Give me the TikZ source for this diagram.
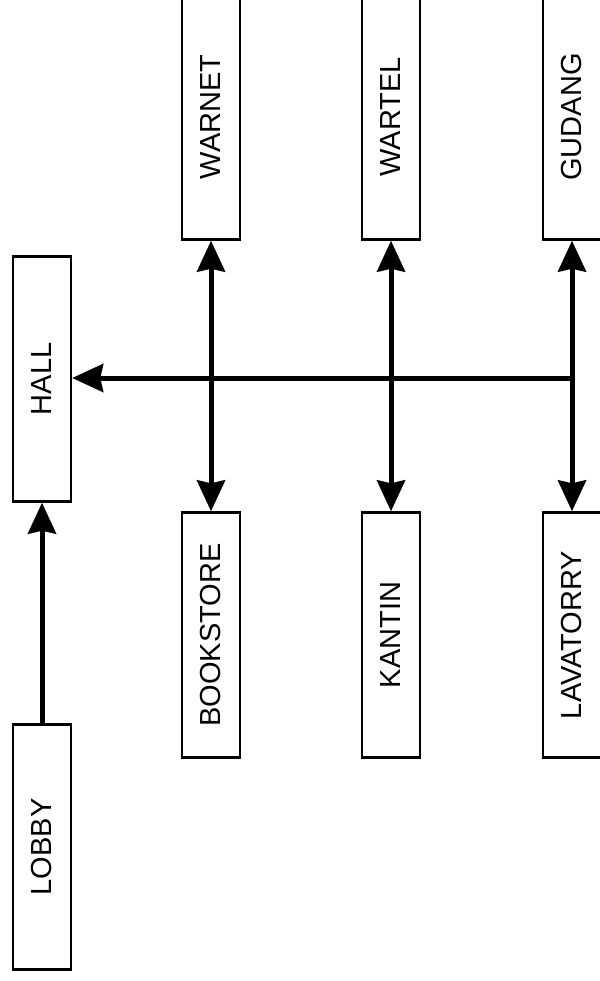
\documentclass[tikz,border=0pt]{standalone}
\usepackage{fontspec}
\setmainfont{Liberation Sans}
\usetikzlibrary{arrows.meta}
\tikzset{
  room/.style={draw, line width=2.4pt, minimum width=58pt, minimum height=245pt,
    inner sep=0pt, font=\fontsize{29}{29}\selectfont},
  flow/.style={line width=5pt},
}

\begin{document}
\begin{tikzpicture}[x=1pt, y=1pt, >={Stealth[length=31pt, width=28pt, inset=3pt]}]
\useasboundingbox (0,0) rectangle (599,-981);
% ---------- entrance ----------
\node[room] (lobby) at (42,-847) {\rotatebox{90}{LOBBY}};
\node[room] (hall) at (42,-379) {\rotatebox{90}{HALL}};
\draw[flow, ->] (lobby.north) -- (hall.south);
% ---------- rooms on both sides of the corridor ----------
\foreach \i/\x/\up/\dn in {1/211/WARNET/BOOKSTORE, 2/391/WARTEL/KANTIN, 3/572/GUDANG/LAVATORRY} {
  \node[room] (up\i) at (\x,-117) {\rotatebox{90}{\up}};
  \node[room] (dn\i) at (\x,-635) {\rotatebox{90}{\dn}};
  \draw[flow, <->] (up\i.south) -- (dn\i.north);
}
% corridor back to the hall
\coordinate (end) at (572,-378);
\draw[flow, ->] (end) -- (end -| hall.east);
\end{tikzpicture}
\end{document}
